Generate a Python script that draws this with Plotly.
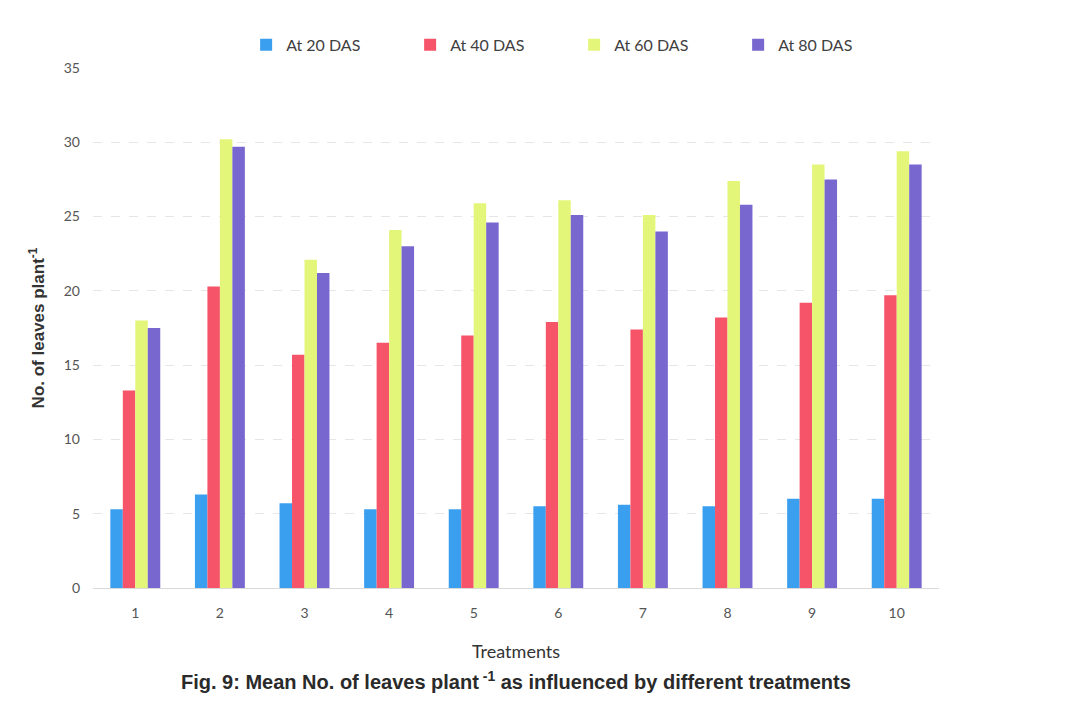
import plotly.graph_objects as go

treatments = ["1", "2", "3", "4", "5", "6", "7", "8", "9", "10"]
das20 = [5.3, 6.3, 5.7, 5.3, 5.3, 5.5, 5.6, 5.5, 6.0, 6.0]
das40 = [13.3, 20.3, 15.7, 16.5, 17.0, 17.9, 17.4, 18.2, 19.2, 19.7]
das60 = [18.0, 30.2, 22.1, 24.1, 25.9, 26.1, 25.1, 27.4, 28.5, 29.4]
das80 = [17.5, 29.7, 21.2, 23.0, 24.6, 25.1, 24.0, 25.8, 27.5, 28.5]
series_names = ["At 20 DAS", "At 40 DAS", "At 60 DAS", "At 80 DAS"]
colors = ["#3b9ff0", "#f65468", "#e4f67a", "#7867cf"]

fig = go.Figure()
for name, vals, c in zip(series_names, [das20, das40, das60, das80], colors):
    fig.add_trace(go.Bar(x=treatments, y=vals, name=name, marker_color=c,
                         marker_line_width=0))

fig.update_layout(
    width=1068, height=687,
    paper_bgcolor="white", plot_bgcolor="white",
    margin=dict(l=85, r=137, t=60, b=107),
    barmode="group", bargap=0.41, bargroupgap=0,
    font=dict(family="Lato, Open Sans, sans-serif", color="#555555", size=14),
    legend=dict(orientation="h", x=0.181, xanchor="left", y=1.012, yanchor="bottom",
                font=dict(size=16, family="Lato, sans-serif", color="#404040"),
                entrywidth=119, itemwidth=30,
                traceorder="normal"),
    xaxis=dict(showline=True, linecolor="#d9d9d9", linewidth=1, ticks="",
               ticklabelstandoff=12,
               tickfont=dict(size=14, color="#555555"),
               title=dict(text="Treatments", font=dict(size=18, family="Lato, sans-serif", color="#333333"),
                          standoff=25)),
    yaxis=dict(range=[0, 35], dtick=5, showgrid=True, gridcolor="#e6e6e6", griddash="dash",
               gridwidth=1, zeroline=False, ticks="", ticklabelstandoff=12,
               tickfont=dict(size=14, color="#555555"),
               title=dict(text="<b>No. of leaves plant<sup>-1</sup></b>",
                          font=dict(size=17, family="Liberation Sans, Arial", color="#333333"),
                          standoff=14)),
    annotations=[dict(text="<b>Fig. 9: Mean No. of leaves plant<sup> -1</sup> as influenced by different treatments</b>",
                      xref="paper", yref="paper", x=0.5, y=-0.178, xanchor="center", yanchor="middle",
                      showarrow=False, font=dict(size=20, family="Liberation Sans, Arial", color="#2a2a2a"))],
)

fig.write_html("out.html")
